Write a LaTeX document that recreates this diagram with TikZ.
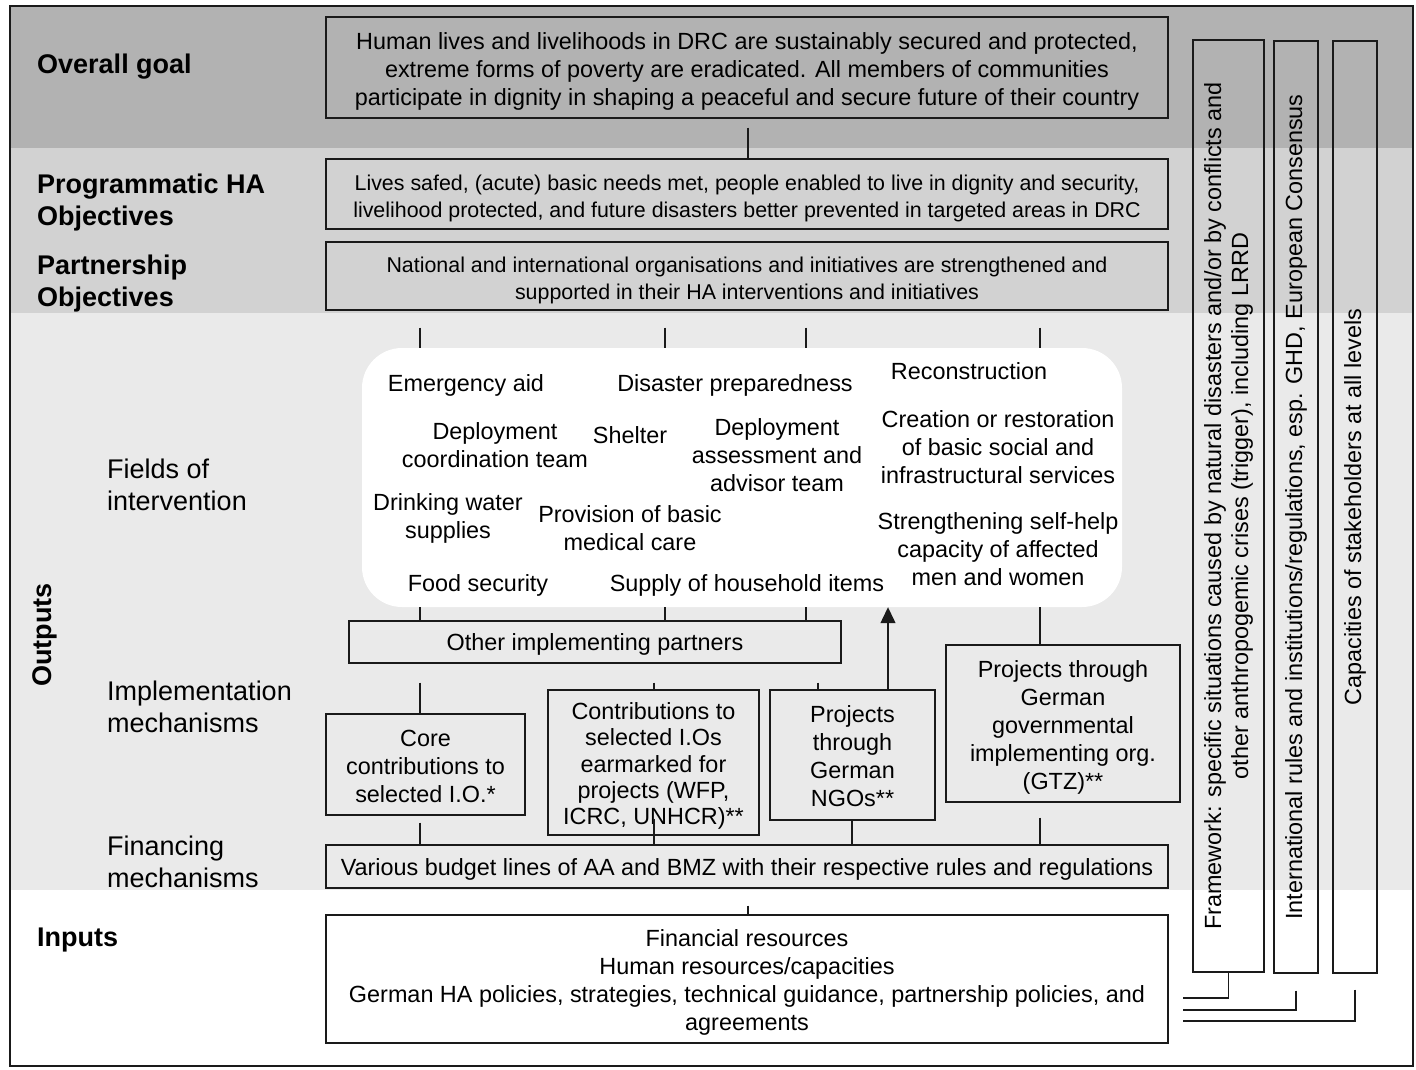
\documentclass[tikz,border=0pt]{standalone}
\usepackage{fontspec}
\setmainfont{Liberation Sans}
\usetikzlibrary{arrows.meta}
\definecolor{bandA}{HTML}{B2B2B2}
\definecolor{bandB}{HTML}{D2D2D2}
\definecolor{bandC}{HTML}{EAEAEA}
\definecolor{ink}{HTML}{1A1A1A}
\newcommand\fl{\rule{0pt}{24pt}}
\begin{document}
\begin{tikzpicture}[x=1pt,y=-1pt,
  plain/.style={font=\fontsize{23.4}{28}\selectfont, align=center, inner sep=0pt, text=black},
  txt/.style={plain, execute at begin node={\rule{0pt}{22pt}}, execute at end node={\rule[-5pt]{0pt}{5pt}}},
  box/.style={txt, draw=ink, line width=1.3pt},
  rbox/.style={plain, draw=ink, line width=1.3pt, rotate=90},
  small/.style={font=\fontsize{21.4}{27}\selectfont},
  lab/.style={font=\fontsize{27}{32}\selectfont\bfseries, align=left, anchor=west, inner sep=0pt},
  sublab/.style={font=\fontsize{27}{32}\selectfont, align=left, anchor=west, inner sep=0pt},
  link/.style={draw=ink, line width=1.3pt},
]
\useasboundingbox (0,0) rectangle (1416,1069);
% bands
\fill[bandA] (10,6) rectangle (1413,148);
\fill[bandB] (10,148) rectangle (1413,313);
\fill[bandC] (10,313) rectangle (1413,890);
\fill[white] (10,890) rectangle (1413,1066);

% x positions
\coordinate (c420) at (420,0);
\coordinate (c654) at (654,0);
\coordinate (c665) at (665,0);
\coordinate (c748) at (748,0);
\coordinate (c806) at (806,0);
\coordinate (c818) at (818,0);
\coordinate (c852) at (852,0);
\coordinate (c888) at (888,0);
\coordinate (c1040) at (1040,0);

% left labels
\node[lab] (lgoal) at (37,67) {Overall goal};
\node[lab] (lprog) at (37,203) {Programmatic HA\\Objectives};
\node[lab] (lpart) at (37,284) {Partnership\\Objectives};
\node[lab, anchor=center, rotate=90] (lout) at (45,635) {Outputs};
\node[sublab] (lfield) at (107,485) {Fields of\\intervention};
\node[sublab] (limpl) at (107,707) {Implementation\\mechanisms};
\node[sublab] (lfin) at (107,862) {Financing\\mechanisms};
\node[lab] (linp) at (37,940) {Inputs};

% main boxes
\node[box, minimum width=842pt, minimum height=101pt] (goal) at (747,67.5)
  {\fl Human lives and livelihoods in DRC are sustainably secured and protected,\\extreme forms of poverty are eradicated. All members of communities\\participate in dignity in shaping a peaceful and secure future of their country};
\node[box, small, minimum width=842pt, minimum height=70pt] (prog) at (747,194)
  {\fl Lives safed, (acute) basic needs met, people enabled to live in dignity and security,\\livelihood protected, and future disasters better prevented in targeted areas in DRC};
\node[box, small, minimum width=842pt, minimum height=68pt] (part) at (747,276)
  {\fl National and international organisations and initiatives are strengthened and\\supported in their HA interventions and initiatives};

% fields of intervention
\node[fill=white, rounded corners=40pt, minimum width=760pt, minimum height=259pt, inner sep=0pt] (fields) at (742,477.5) {};
\node[txt] (f1) at (466,383) {Emergency aid};
\node[txt] (f2) at (735,383) {Disaster preparedness};
\node[txt] (f3) at (969,371) {Reconstruction};
\node[txt] (f4) at (495,444) {\fl Deployment\\coordination team};
\node[txt] (f5) at (630,435) {Shelter};
\node[txt] (f6) at (777,454) {\fl Deployment\\assessment and\\advisor team};
\node[txt] (f7) at (998,446) {\fl Creation or restoration\\of basic social and\\infrastructural services};
\node[txt] (f8) at (448,515) {\fl Drinking water\\supplies};
\node[txt] (f9) at (630,527) {\fl Provision of basic\\medical care};
\node[txt] (f10) at (998,548) {\fl Strengthening self-help\\capacity of affected\\men and women};
\node[txt] (f11) at (478,583) {Food security};
\node[txt] (f12) at (747,583) {Supply of household items};

% implementation
\node[box, minimum width=492pt, minimum height=42pt] (other) at (595,642) {Other implementing partners};
\node[box, minimum width=199pt, minimum height=101pt] (core) at (425.5,764.5) {\fl Core\\contributions to\\selected I.O.*};
\node[box, minimum width=211pt, minimum height=145pt, font=\fontsize{23.4}{26.3}\selectfont] (contrib) at (653.5,762.5)
  {\fl Contributions to\\selected I.Os\\earmarked for\\projects (WFP,\\ICRC, UNHCR)**};
\node[box, minimum width=165pt, minimum height=130pt] (ngo) at (852.5,755) {\fl Projects\\through\\German\\NGOs**};
\node[box, minimum width=234pt, minimum height=157pt] (gtz) at (1063,723.5) {\fl Projects through\\German\\governmental\\implementing org.\\(GTZ)**};

% financing and inputs
\node[box, minimum width=842pt, minimum height=43pt] (budget) at (747,866.5)
  {Various budget lines of AA and BMZ with their respective rules and regulations};
\node[box, minimum width=842pt, minimum height=128pt, fill=white] (inputs) at (747,979)
  {\fl Financial resources\\Human resources/capacities\\German HA policies, strategies, technical guidance, partnership policies, and\\agreements};

% right framework boxes
\node[rbox, minimum width=932pt, minimum height=71pt, font=\fontsize{23.4}{27}\selectfont] (fw) at (1228.5,506)
  {Framework: specific situations caused by natural disasters and/or by conflicts and\\other anthropogemic crises (trigger), including LRRD};
\node[rbox, minimum width=932pt, minimum height=44pt] (rules) at (1296,507)
  {International rules and institutions/regulations, esp. GHD, European Consensus};
\node[rbox, minimum width=932pt, minimum height=44pt] (capac) at (1355,507)
  {Capacities of stakeholders at all levels};

% connectors
\draw[link, shorten <=9pt] (goal.south -| c748) -- (prog.north -| c748);
\foreach \c in {c420,c665,c806,c1040}
  \draw[link, shorten <=17pt] (part.south -| \c) -- (fields.north -| \c);
\foreach \c in {c420,c665,c806}
  \draw[link] (fields.south -| \c) -- (other.north -| \c);
\draw[link] (fields.south -| c1040) -- (gtz.north -| c1040);
\draw[link, shorten <=19pt] (other.south -| c420) -- (core.north -| c420);
\draw[link, shorten <=19pt] (other.south -| c654) -- (contrib.north -| c654);
\draw[link, shorten <=19pt] (other.south -| c818) -- (ngo.north -| c818);
\draw[link, -{Triangle[width=15pt,length=16pt]}] (ngo.north -| c888) -- (fields.south -| c888);
\draw[link, shorten <=7pt] (core.south -| c420) -- (budget.north -| c420);
\draw[link, shorten <=-17pt] (contrib.south -| c654) -- (budget.north -| c654);
\draw[link] (ngo.south -| c852) -- (budget.north -| c852);
\draw[link, shorten <=15pt] (gtz.south -| c1040) -- (budget.north -| c1040);
\draw[link, shorten <=17pt] (budget.south -| c748) -- (inputs.north -| c748);

\coordinate (eA) at (1183,998);
\coordinate (eB) at (1183,1010);
\coordinate (eC) at (1183,1021);
\draw[link] (fw.west) |- (eA);
\draw[link, shorten <=17pt] (rules.west) |- (eB);
\draw[link, shorten <=16pt] (capac.west) |- (eC);

% frame
\draw[line width=2pt, ink] (10,6) rectangle (1413,1066);
\end{tikzpicture}
\end{document}
